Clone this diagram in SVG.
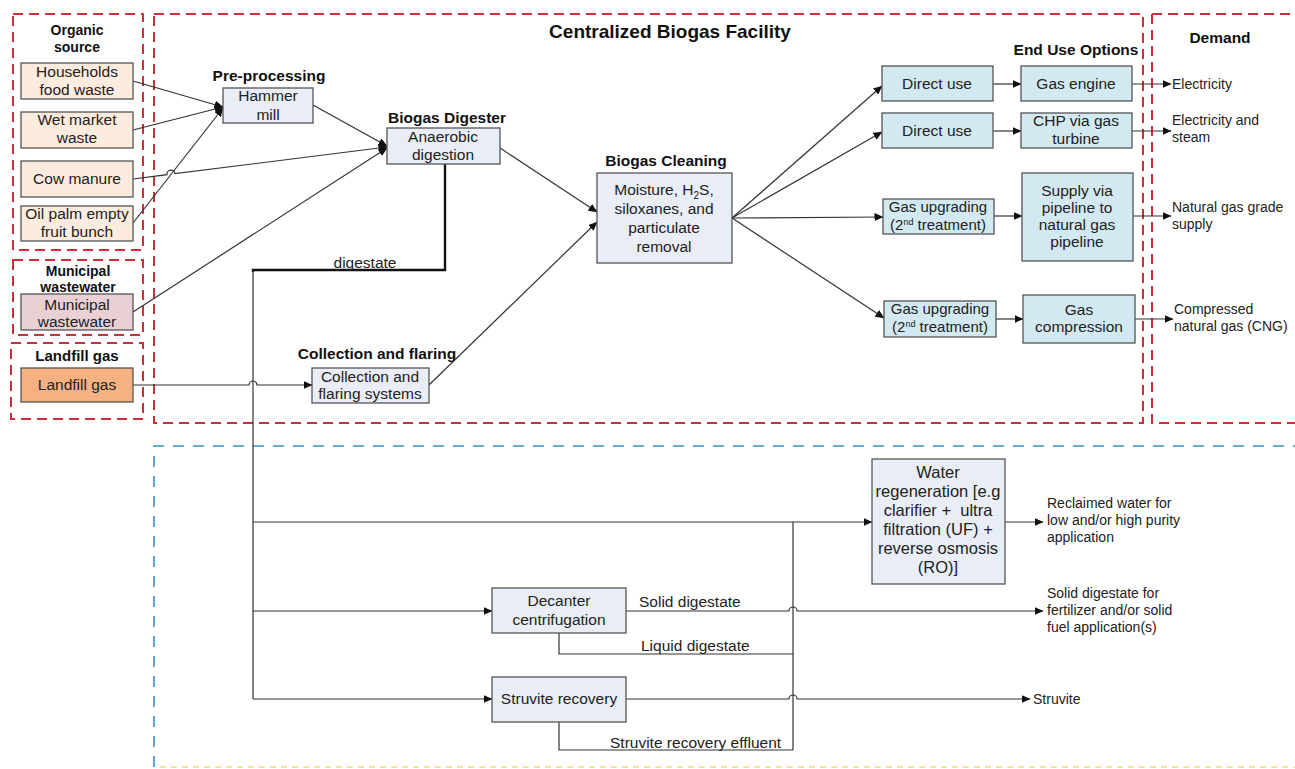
<svg xmlns="http://www.w3.org/2000/svg" width="1295" height="769" viewBox="0 0 1295 769">
<defs>
<marker id="ah" markerWidth="9" markerHeight="8" refX="8.5" refY="4" orient="auto" markerUnits="userSpaceOnUse"><path d="M0,0 L9,4 L0,8 Z" fill="#111"/></marker>
<style>
text{font-family:"Liberation Sans",Arial,sans-serif;fill:#222}
.t{font-size:15.5px;text-anchor:middle}
.e{font-size:15px;text-anchor:middle}
.b{font-size:15.5px;font-weight:bold;text-anchor:middle;fill:#111}
.s{font-size:14px;font-weight:bold;text-anchor:middle;fill:#111}
.d{font-size:14px}
.l{font-size:15.5px}
.wt{font-size:16.5px;text-anchor:middle}
.red{fill:none;stroke:#cc2f3a;stroke-width:2;stroke-dasharray:10 6}
.blue{fill:none;stroke:#3f8fc4;stroke-width:1.6;stroke-dasharray:11 9}
.org{fill:#fcebdf;stroke:#555;stroke-width:1.3}
.gr{fill:#e9edf5;stroke:#555;stroke-width:1.3}
.bl{fill:#d3e9f1;stroke:#555;stroke-width:1.3}
.w{fill:none;stroke:#333;stroke-width:1.2}
.wa{fill:none;stroke:#333;stroke-width:1.2;marker-end:url(#ah)}
.wb{fill:none;stroke:#111;stroke-width:2.4}
</style>
</defs>
<rect width="1295" height="769" fill="#fff"/>

<g id="frames">
<rect class="red" x="13" y="14" width="130" height="236"/>
<rect class="red" x="13" y="260" width="130" height="75"/>
<rect class="red" x="11" y="343" width="132" height="76"/>
<rect class="red" x="154" y="14" width="989" height="409"/>
<path class="red" d="M1152,14 V423 H1300 M1152,14 H1300"/>
<path class="blue" d="M154,767 V446 H1300"/>
<path d="M160,767 H1295" fill="none" stroke="#efe3a0" stroke-width="2" stroke-dasharray="6 5"/>
<text class="b" x="670" y="38" style="font-size:19px">Centralized Biogas Facility</text>
<text class="s" x="77" y="35">Organic</text>
<text class="s" x="77" y="52">source</text>
<text class="s" x="78" y="276">Municipal</text>
<text class="s" x="78" y="292">wastewater</text>
<text class="s" x="77" y="361" style="font-size:15px">Landfill gas</text>
<text class="b" x="269" y="81">Pre-processing</text>
<text class="b" x="447" y="123">Biogas Digester</text>
<text class="b" x="666" y="166">Biogas Cleaning</text>
<text class="b" x="377" y="359">Collection and flaring</text>
<text class="b" x="1076" y="55">End Use Options</text>
<text class="b" x="1220" y="43">Demand</text>
</g>

<g id="connectors">
<path class="wa" d="M133,81 L223,107"/>
<path class="wa" d="M133,130 L223,107"/>
<path class="wa" d="M133,223 L223,108"/>
<path class="wa" d="M133,179 L167,174.7 A4,4 0 0 1 175,173.7 L387,147"/>
<path class="wa" d="M313,105 L387,146"/>
<path class="wa" d="M133,312 L387,148"/>
<path class="wa" d="M500,148 L597,212"/>
<path class="wa" d="M429,385 L597,222"/>
<path class="wa" d="M133,385 H249 A4,4 0 0 1 257,385 H312"/>
<path class="wb" d="M445,164 V270 H253 V272"/>
<path class="w" d="M253,270 V699"/>
<text class="l" x="365" y="268" text-anchor="middle">digestate</text>

<path class="wa" d="M732,218 L882,86"/>
<path class="wa" d="M732,218 L882,132"/>
<path class="wa" d="M732,218 L883,217"/>
<path class="wa" d="M732,218 L884,318"/>
<path class="wa" d="M993,84 H1021"/>
<path class="wa" d="M993,131 H1021"/>
<path class="wa" d="M994,216 H1022"/>
<path class="wa" d="M996,319 H1023"/>
<path class="wa" d="M1132,84 H1171"/>
<path class="wa" d="M1132,131 H1171"/>
<path class="wa" d="M1133,216 H1171"/>
<path class="wa" d="M1135,319 H1173"/>

<path class="wa" d="M253,522 H872"/>
<path class="wa" d="M1005,522 H1043"/>
<path class="w" d="M793,522 V750"/>
<path class="wa" d="M253,611 H492"/>
<path class="wa" d="M253,699 H492"/>
<path class="wa" d="M626,611 H789 A4,4 0 0 1 797,611 H1043"/>
<path class="w" d="M559,633 V654 H793"/>
<path class="wa" d="M626,699 H789 A4,4 0 0 1 797,699 H1030"/>
<path class="w" d="M559,722 V750 H793"/>
<text class="l" x="639" y="607">Solid digestate</text>
<text class="l" x="641" y="651">Liquid digestate</text>
<text class="l" x="610" y="748">Struvite recovery effluent</text>
</g>

<g id="n-households"><rect class="org" x="21" y="63" width="112" height="36"/><text class="t" x="77" y="77">Households</text><text class="t" x="77" y="95">food waste</text></g>
<g id="n-wetmarket"><rect class="org" x="21" y="112" width="112" height="36"/><text class="t" x="77" y="125">Wet market</text><text class="t" x="77" y="143">waste</text></g>
<g id="n-cow"><rect class="org" x="21" y="161" width="112" height="36"/><text class="t" x="77" y="184">Cow manure</text></g>
<g id="n-oilpalm"><rect class="org" x="21" y="206" width="112" height="35"/><text class="t" x="77" y="219">Oil palm empty</text><text class="t" x="77" y="237">fruit bunch</text></g>
<g id="n-municipal"><rect x="21" y="294" width="112" height="36" fill="#e9d0d5" stroke="#555" stroke-width="1.3"/><text class="t" x="77" y="310">Municipal</text><text class="t" x="77" y="327">wastewater</text></g>
<g id="n-landfill"><rect x="21" y="368" width="112" height="34" fill="#f5b181" stroke="#555" stroke-width="1.3"/><text class="t" x="77" y="390">Landfill gas</text></g>

<g id="n-hammer"><rect class="gr" x="223" y="88" width="90" height="35"/><text class="t" x="268" y="101">Hammer</text><text class="t" x="268" y="120">mill</text></g>
<g id="n-digester"><rect class="gr" x="387" y="128" width="113" height="36"/><text class="t" x="443" y="142">Anaerobic</text><text class="t" x="443" y="160">digestion</text></g>
<g id="n-cleaning"><rect class="gr" x="597" y="173" width="135" height="90"/><text class="t" x="664" y="195">Moisture, H<tspan font-size="10" dy="4">2</tspan><tspan dy="-4">S,</tspan></text><text class="t" x="664" y="214">siloxanes, and</text><text class="t" x="664" y="233">particulate</text><text class="t" x="664" y="252">removal</text></g>
<g id="n-collection"><rect class="gr" x="312" y="368" width="117" height="35"/><text class="t" x="370" y="382">Collection and</text><text class="t" x="370" y="399">flaring systems</text></g>

<g id="n-direct1"><rect class="bl" x="882" y="66" width="111" height="35"/><text class="t" x="937" y="89">Direct use</text></g>
<g id="n-engine"><rect class="bl" x="1021" y="66" width="111" height="35"/><text class="t" x="1076" y="89">Gas engine</text></g>
<g id="n-direct2"><rect class="bl" x="882" y="113" width="111" height="35"/><text class="t" x="937" y="136">Direct use</text></g>
<g id="n-chp"><rect class="bl" x="1021" y="113" width="111" height="35"/><text class="t" x="1076" y="126">CHP via gas</text><text class="t" x="1076" y="144">turbine</text></g>
<g id="n-upgrade1"><rect class="bl" x="883" y="199" width="111" height="35"/><text class="e" x="938" y="212">Gas upgrading</text><text class="e" x="938" y="230">(2<tspan font-size="9" dy="-5">nd</tspan><tspan dy="5"> treatment)</tspan></text></g>
<g id="n-supply"><rect class="bl" x="1022" y="173" width="111" height="88"/><text class="t" x="1077" y="196">Supply via</text><text class="t" x="1077" y="213">pipeline to</text><text class="t" x="1077" y="230">natural gas</text><text class="t" x="1077" y="247">pipeline</text></g>
<g id="n-upgrade2"><rect class="bl" x="884" y="301" width="112" height="36"/><text class="e" x="940" y="314">Gas upgrading</text><text class="e" x="940" y="332">(2<tspan font-size="9" dy="-5">nd</tspan><tspan dy="5"> treatment)</tspan></text></g>
<g id="n-compression"><rect class="bl" x="1023" y="295" width="112" height="48"/><text class="t" x="1079" y="315">Gas</text><text class="t" x="1079" y="332">compression</text></g>

<g id="n-demand">
<text class="d" x="1172" y="89">Electricity</text>
<text class="d" x="1172" y="125">Electricity and</text>
<text class="d" x="1172" y="142">steam</text>
<text class="d" x="1172" y="212">Natural gas grade</text>
<text class="d" x="1172" y="229">supply</text>
<text class="d" x="1174" y="314">Compressed</text>
<text class="d" x="1174" y="331">natural gas (CNG)</text>
</g>

<g id="n-water"><rect class="gr" x="872" y="459" width="133" height="125"/><text class="wt" x="938" y="478">Water</text><text class="wt" x="938" y="497">regeneration [e.g</text><text class="wt" x="938" y="516">clarifier +&#160; ultra</text><text class="wt" x="938" y="535">filtration (UF) +</text><text class="wt" x="938" y="554">reverse osmosis</text><text class="wt" x="938" y="573">(RO)]</text></g>
<g id="n-decanter"><rect class="gr" x="492" y="588" width="134" height="45"/><text class="t" x="559" y="606">Decanter</text><text class="t" x="559" y="625">centrifugation</text></g>
<g id="n-struvite"><rect class="gr" x="492" y="677" width="134" height="45"/><text class="t" x="559" y="704">Struvite recovery</text></g>

<g id="n-outputs">
<text class="d" x="1047" y="508">Reclaimed water for</text>
<text class="d" x="1047" y="525">low and/or high purity</text>
<text class="d" x="1047" y="542">application</text>
<text class="d" x="1047" y="598">Solid digestate for</text>
<text class="d" x="1047" y="615">fertilizer and/or solid</text>
<text class="d" x="1047" y="632">fuel application(s)</text>
<text class="d" x="1033" y="704">Struvite</text>
</g>
</svg>
